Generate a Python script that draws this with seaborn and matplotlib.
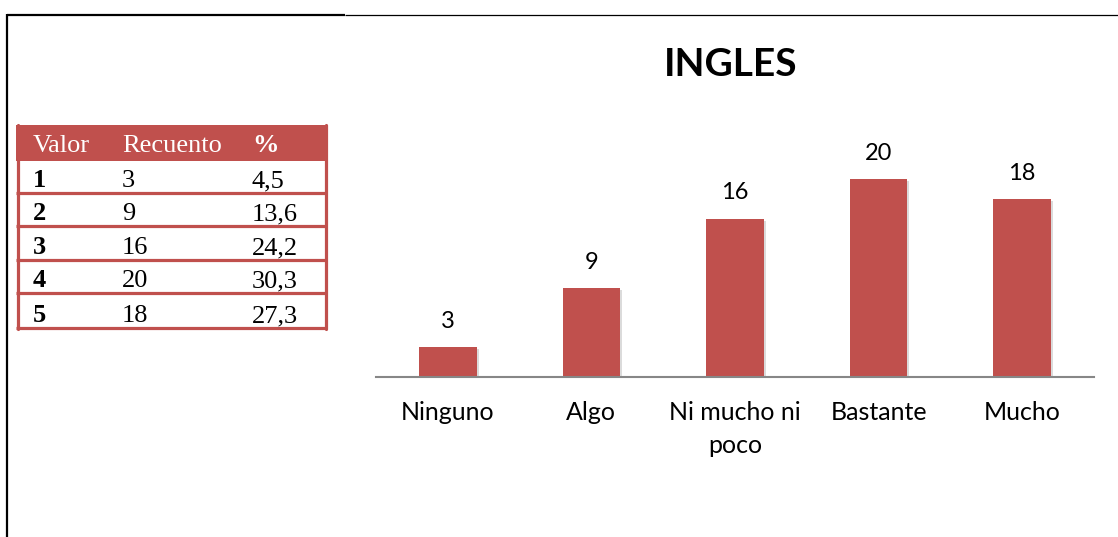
import matplotlib
matplotlib.use("Agg")
import matplotlib.pyplot as plt
import matplotlib.patheffects as pe
from matplotlib.patches import Rectangle
import seaborn as sns
import pandas as pd

# ---- data ----
categories = ["Ninguno", "Algo", "Ni mucho ni\npoco", "Bastante", "Mucho"]
counts = [3, 9, 16, 20, 18]
title = "INGLES"
table_header = ["Valor", "Recuento", "%"]
table_values = ["1", "2", "3", "4", "5"]
table_counts = ["3", "9", "16", "20", "18"]
table_pct = ["4,5", "13,6", "24,2", "30,3", "27,3"]

W, H = 1118, 537
RED = "#C0504D"

sns.set_theme(style="white")
plt.rcParams['font.family'] = ['Lato', 'DejaVu Sans']
plt.rcParams['text.color'] = 'black'
plt.rcParams['xtick.color'] = 'black'

fig = plt.figure(figsize=(W / 100, H / 100), dpi=100)


def fx(px):
    return px / W


def fy(py):
    return 1 - py / H


# ---- overlay for frame lines and table ----
ov = fig.add_axes([0, 0, 1, 1], zorder=0)
ov.set_xlim(0, W)
ov.set_ylim(H, 0)
ov.axis('off')
ov.plot([7, 345], [15, 15], color='black', lw=1.6, solid_capstyle='butt')
ov.plot([345, W], [15, 15], color='black', lw=0.9, solid_capstyle='butt')
ov.plot([7, 7], [14, H], color='black', lw=1.6, solid_capstyle='butt')

# table
tl, tr = 16, 327
ttop = 125
row_y = [161, 193, 226, 260, 293, 328]
col_x = [33, 122, 252]
ov.add_patch(Rectangle((tl, ttop), tr - tl, row_y[0] - ttop, facecolor=RED, edgecolor='none'))
for y in row_y[1:]:
    ov.plot([tl, tr], [y, y], color=RED, lw=2.3, solid_capstyle='butt')
ov.plot([tl + 1.5, tl + 1.5], [ttop, row_y[-1] + 1], color=RED, lw=2.3)
ov.plot([tr - 1.5, tr - 1.5], [ttop, row_y[-1] + 1], color=RED, lw=2.3)

serif = ['Liberation Serif', 'DejaVu Serif']
for i, h in enumerate(table_header):
    ov.text(col_x[i], 152, h, color='white', fontsize=19, family=serif,
            fontweight='bold' if h == '%' else 'normal', va='baseline', ha='left')
for r in range(len(table_values)):
    base = row_y[r + 1] - 6
    ov.text(col_x[0], base, table_values[r], fontsize=19, family=serif,
            fontweight='bold', va='baseline', ha='left', color='black')
    ov.text(col_x[1], base, table_counts[r], fontsize=19, family=serif,
            va='baseline', ha='left', color='black')
    ov.text(col_x[2], base, table_pct[r], fontsize=19, family=serif,
            va='baseline', ha='left', color='black')

# ---- bar chart ----
x0, x1 = 376, 1094
ybase = 377
ppu = 9.9
ymax = 22
ax = fig.add_axes([fx(x0), fy(ybase), (x1 - x0) / W, ymax * ppu / H], zorder=1)
ax.patch.set_alpha(0)
df = pd.DataFrame({"cat": categories, "n": counts})
sns.barplot(data=df, x="cat", y="n", color=RED, width=0.4, saturation=1,
            edgecolor='none', ax=ax)
for p in ax.patches:
    p.set_path_effects([pe.SimplePatchShadow(offset=(1.5, -1.5), shadow_rgbFace='#999999', alpha=0.35),
                        pe.Normal()])
ax.bar_label(ax.containers[0], labels=[str(v) for v in counts], padding=11,
             fontsize=17, color='black')
ax.set_xlim(-0.5, 4.5)
ax.set_ylim(0, ymax)
ax.set_xlabel("")
ax.set_ylabel("")
ax.set_yticks([])
for s in ['top', 'left', 'right']:
    ax.spines[s].set_visible(False)
ax.spines['bottom'].set_color('#878787')
ax.spines['bottom'].set_linewidth(1.5)
ax.tick_params(axis='x', length=0, pad=17, labelsize=18, colors='black')
for t in ax.get_xticklabels():
    t.set_linespacing(1.55)

fig.text(fx(731), fy(64), title, ha='center', va='center', fontsize=28,
         fontweight='bold', color='black')

fig.savefig("out.png", dpi=100)
